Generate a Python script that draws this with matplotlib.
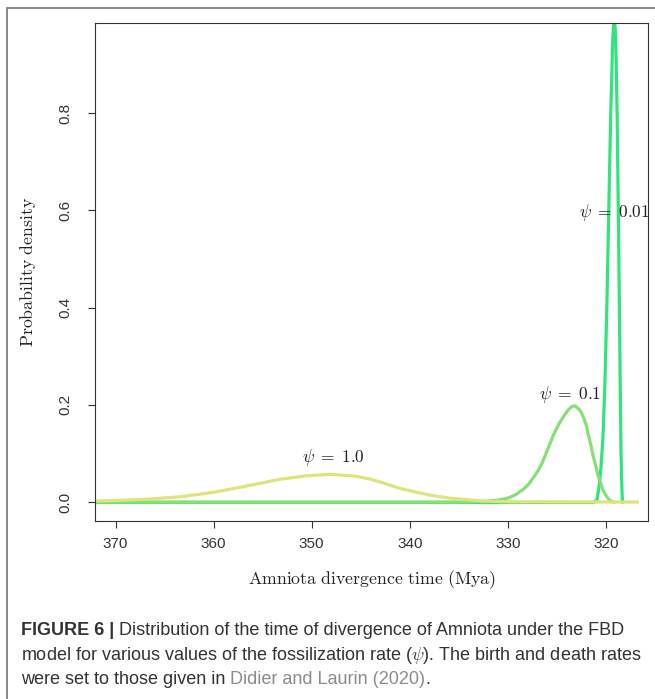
import matplotlib
matplotlib.use("Agg")
import matplotlib.pyplot as plt
from matplotlib.patches import Rectangle

# values (x in Mya, y = density)
psi001_x = [321.2, 320.9, 320.7, 320.5, 320.3, 320.1, 319.9, 319.7, 319.5, 319.3,
            319.15, 319.0, 318.85, 318.7, 318.55, 318.45, 318.35, 318.3]
psi001_y = [0.0, 0.005, 0.03, 0.07, 0.13, 0.24, 0.40, 0.60, 0.80, 0.95,
            1.0, 0.96, 0.80, 0.55, 0.27, 0.10, 0.02, 0.0]
psi001_base = [372.1, 321.2]

psi01_x = [372.1, 335.0, 333.5, 332.0, 331.0, 330.0, 329.2, 328.5, 327.9, 327.4,
           326.9, 326.5, 326.1, 325.7, 325.3, 324.8, 324.4, 324.0, 323.8, 323.5,
           323.15, 322.7, 322.5, 322.3, 322.0, 321.8, 321.5, 321.3, 321.0, 320.8,
           320.5, 320.3, 320.0, 319.8, 319.6, 319.2]
psi01_y = [0.0, 0.0, 0.001, 0.002, 0.004, 0.008, 0.015, 0.025, 0.036, 0.05,
           0.065, 0.08, 0.10, 0.12, 0.14, 0.16, 0.173, 0.185, 0.19, 0.196,
           0.198, 0.19, 0.184, 0.175, 0.158, 0.14, 0.115, 0.095, 0.072, 0.055,
           0.037, 0.025, 0.014, 0.008, 0.004, 0.0]

psi1_x = [372.1, 369.0, 366.7, 363.3, 360.0, 356.6, 353.2, 350.5, 348.1, 345.5,
          344.0, 342.5, 341.0, 339.3, 337.6, 335.9, 334.2, 332.5, 330.0, 316.8]
psi1_y = [0.002, 0.004, 0.006, 0.011, 0.02, 0.033, 0.047, 0.054, 0.057, 0.053,
          0.047, 0.038, 0.028, 0.02, 0.013, 0.008, 0.005, 0.002, 0.0005, 0.0]

labels = [r"$\psi\;=\;0.01$", r"$\psi\;=\;0.1$", r"$\psi\;=\;1.0$"]
label_pos = [(319.1, 0.596), (323.6, 0.222), (347.8, 0.092)]
colors = ["#33e47c", "#88df74", "#e0e27a"]

xticks = [370, 360, 350, 340, 330, 320]
yticks = [0.0, 0.2, 0.4, 0.6, 0.8]

plt.rcParams["mathtext.fontset"] = "cm"
plt.rcParams["font.family"] = ["Liberation Sans", "DejaVu Sans"]

W, H = 655, 699
fig = plt.figure(figsize=(W / 100, H / 100), dpi=100)

# outer frame round the whole figure
fig.patches.append(Rectangle((7 / W, -0.05), 1.1, 1 - 8 / H + 0.05, transform=fig.transFigure,
                             fill=False, edgecolor="#808080", linewidth=1.3))

ax = fig.add_axes([95 / W, 1 - 521 / H, (648 - 95) / W, (521 - 23) / H])
ax.plot(psi001_base, [0, 0], color=colors[0], lw=2.3, solid_capstyle="butt")
ax.plot(psi001_x, psi001_y, color=colors[0], lw=2.3)
ax.plot(psi01_x, psi01_y, color=colors[1], lw=2.3)
ax.plot(psi1_x, psi1_y, color=colors[2], lw=2.3)

for lab, (lx, ly) in zip(labels, label_pos):
    ax.text(lx, ly, lab, ha="center", va="center", fontsize=12.5, color="#222222")

ax.set_xlim(372.1, 315.7)
ax.set_ylim(-0.039, 0.985)
ax.set_xticks(xticks)
ax.set_xticklabels([str(t) for t in xticks])
ax.set_yticks(yticks)
ax.set_yticklabels(["%.1f" % t for t in yticks], rotation=90, va="center")
ax.tick_params(axis="both", direction="out", length=5, width=0.8, colors="#333333",
               labelsize=11, labelcolor="#333333")
ax.tick_params(axis="x", pad=6.5)
ax.tick_params(axis="y", pad=11)
for s in ax.spines.values():
    s.set_color("#333333")
    s.set_linewidth(0.8)

cx = (95 + 648) / 2 / W
fig.text(cx, 1 - 580 / H, r"$\mathrm{Amniota\ divergence\ time\ (Mya)}$",
         ha="center", va="center", fontsize=12.8, color="#222222")
fig.text(28 / W, 1 - 272 / H, r"$\mathrm{Probability\ density}$", rotation=90,
         ha="center", va="center", fontsize=12.8, color="#222222")

# caption with mixed styles
r = fig.canvas.get_renderer()
cap_size = 13.0
cap_font = "Liberation Sans"


def piece(x_px, y_px, s, weight="normal", color="#333333"):
    t = fig.text(x_px / W, 1 - y_px / H, s, ha="left", va="baseline", fontsize=cap_size,
                 family=cap_font, weight=weight, color=color)
    bb = t.get_window_extent(renderer=r)
    return x_px + bb.width


space = fig.text(0, 0, "a b", fontsize=cap_size, family=cap_font).get_window_extent(r).width - \
    fig.text(0, 0, "ab", fontsize=cap_size, family=cap_font).get_window_extent(r).width
for t in fig.texts[-2:]:
    t.remove()

x = piece(21, 635, "FIGURE 6 |", weight="bold")
piece(x + space, 635, "Distribution of the time of divergence of Amniota under the FBD")
piece(21, 660, r"model for various values of the fossilization rate ($\psi$). The birth and death rates")
x = piece(21, 684, "were set to those given in ")
x = piece(x, 684, "Didier and Laurin (2020)", color="#8c8c8c")
piece(x, 684, ".")

fig.savefig("out.png", dpi=100)
